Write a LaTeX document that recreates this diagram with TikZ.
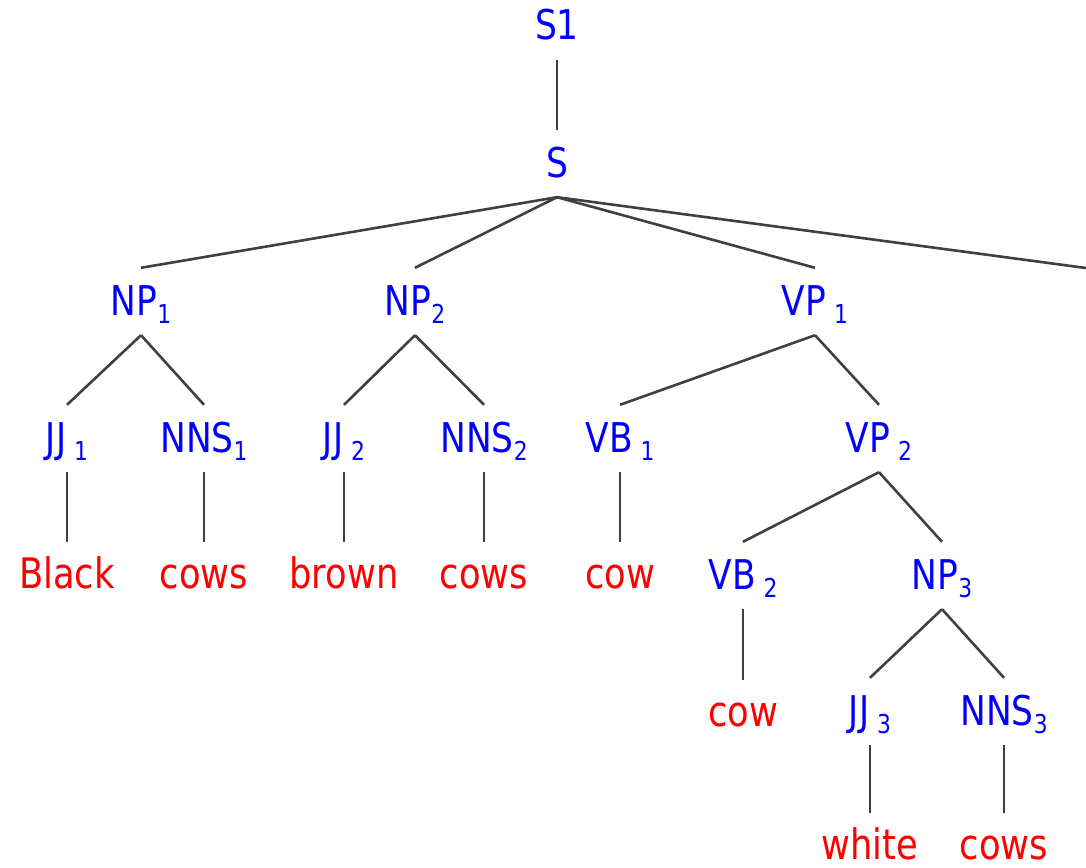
\documentclass[tikz,border=0pt]{standalone}
\usepackage{fontspec}
\setmainfont{DejaVu Sans}
\newfontfamily\treefont[FakeStretch=0.84]{DejaVu Sans}
\newcommand\sbn[1]{\raisebox{-8pt}{\fontsize{26}{26}\selectfont #1}}
\newcommand\ssb[1]{\hspace{8pt}\sbn{#1}}
\tikzset{
  cat/.style={anchor=base, inner sep=0pt, text height=47pt, text depth=20pt, text=blue, font=\treefont\fontsize{41}{41}\selectfont},
  word/.style={anchor=base, inner sep=0pt, text height=46pt, text depth=0pt, text=red, font=\treefont\fontsize{42}{42}\selectfont},
  branch/.style={draw=black!75, line width=2.6pt}
}
\begin{document}
\begin{tikzpicture}[x=1pt,y=-1pt]
\useasboundingbox (0,0) rectangle (1086,867);
\node[cat] (S1) at (557,40) {S1};
\node[cat] (S) at (557,177) {S};
\node[cat] (NP1) at (141,315) {NP\sbn{1}};
\node[cat] (NP2) at (415,315) {NP\sbn{2}};
\node[cat] (VP1) at (815,315) {VP\ssb{1}};
\coordinate (R) at (1086,268);
\node[cat] (JJ1) at (67,452) {JJ\ssb{1}};
\node[cat] (NNS1) at (204,452) {NNS\sbn{1}};
\node[cat] (JJ2) at (344,452) {JJ\ssb{2}};
\node[cat] (NNS2) at (484,452) {NNS\sbn{2}};
\node[cat] (VB1) at (620,452) {VB\ssb{1}};
\node[cat] (VP2) at (879,452) {VP\ssb{2}};
\node[word] (w1) at (67,588) {Black};
\node[word] (w2) at (204,588) {cows};
\node[word] (w3) at (344,588) {brown};
\node[word] (w4) at (484,588) {cows};
\node[word] (w5) at (620,588) {cow};
\node[cat] (VB2) at (743,589) {VB\ssb{2}};
\node[cat] (NP3) at (942,589) {NP\sbn{3}};
\node[word] (w6) at (743,726) {cow};
\node[cat] (JJ3) at (870,725) {JJ\ssb{3}};
\node[cat] (NNS3) at (1004,725) {NNS\sbn{3}};
\node[word] (w7) at (870,859) {white};
\node[word] (w8) at (1004,859) {cows};
\draw[branch] (S1.south) -- (S.north);
\draw[branch] (S.south) -- (NP1.north);
\draw[branch] (S.south) -- (NP2.north);
\draw[branch] (S.south) -- (VP1.north);
\draw[branch] (S.south) -- (R);
\draw[branch] (NP1.south) -- (JJ1.north);
\draw[branch] (NP1.south) -- (NNS1.north);
\draw[branch] (NP2.south) -- (JJ2.north);
\draw[branch] (NP2.south) -- (NNS2.north);
\draw[branch] (VP1.south) -- (VB1.north);
\draw[branch] (VP1.south) -- (VP2.north);
\draw[branch] (JJ1.south) -- (w1.north);
\draw[branch] (NNS1.south) -- (w2.north);
\draw[branch] (JJ2.south) -- (w3.north);
\draw[branch] (NNS2.south) -- (w4.north);
\draw[branch] (VB1.south) -- (w5.north);
\draw[branch] (VP2.south) -- (VB2.north);
\draw[branch] (VP2.south) -- (NP3.north);
\draw[branch] (VB2.south) -- (w6.north);
\draw[branch] (NP3.south) -- (JJ3.north);
\draw[branch] (NP3.south) -- (NNS3.north);
\draw[branch] (JJ3.south) -- (w7.north);
\draw[branch] (NNS3.south) -- (w8.north);
\end{tikzpicture}
\end{document}
